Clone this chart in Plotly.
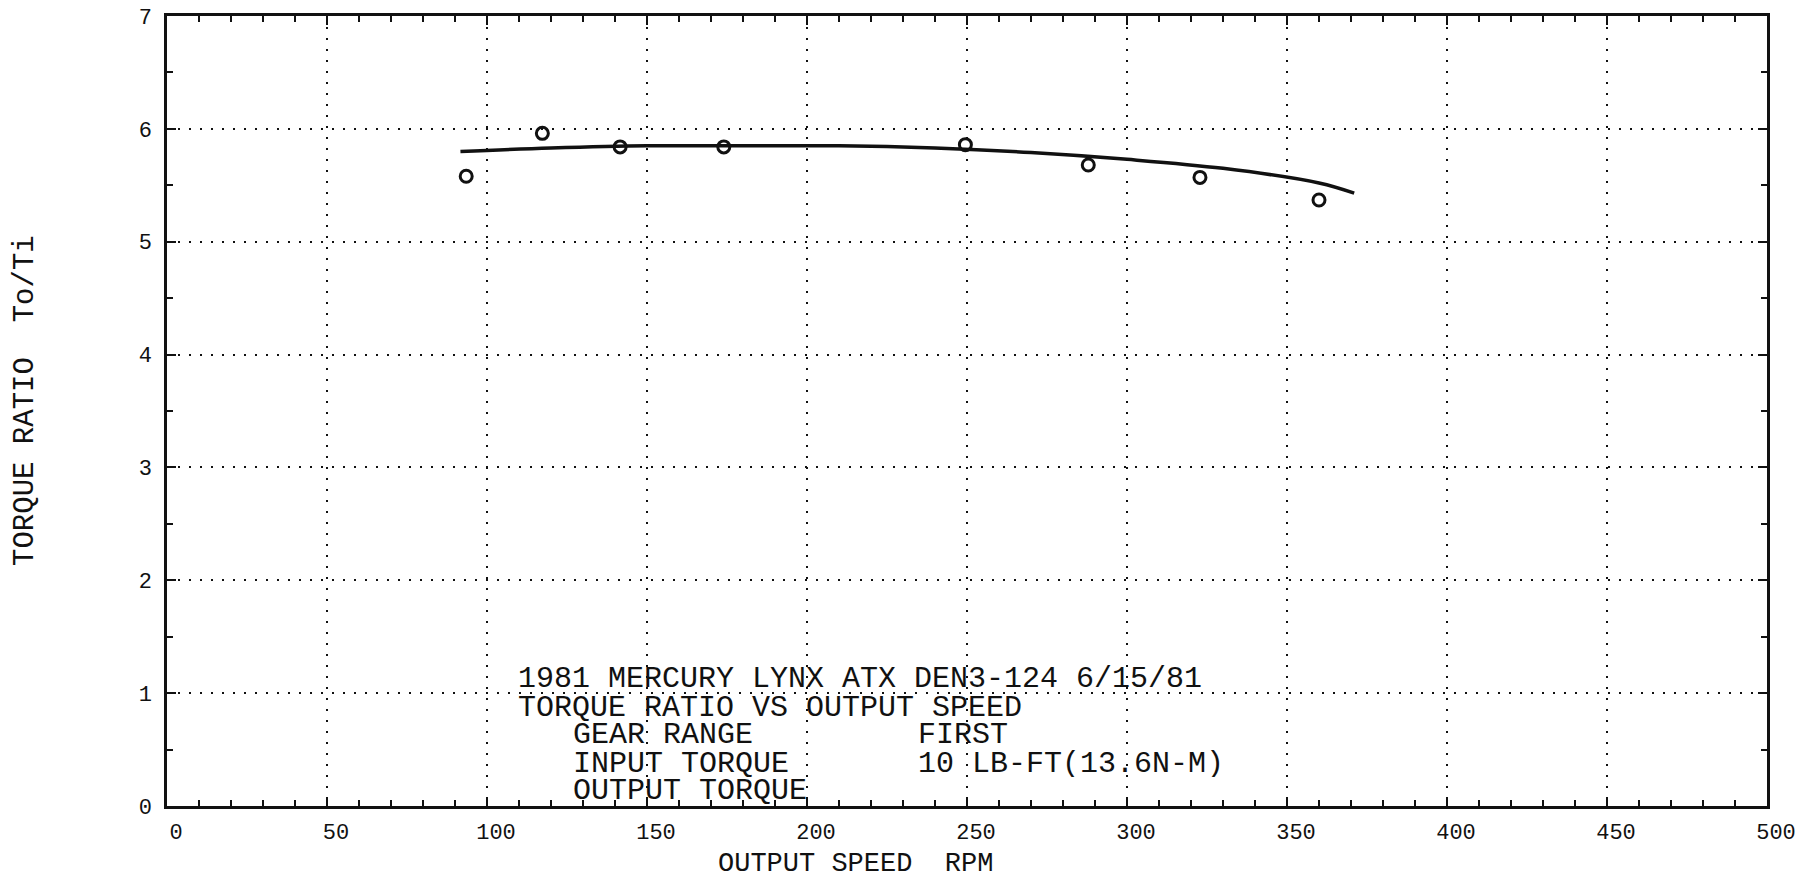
import plotly.graph_objects as go

# Measured points (output speed rpm, torque ratio To/Ti)
speed_pts = [93.5, 117.3, 141.6, 174.0, 249.5, 287.9, 322.8, 360.0]
ratio_pts = [5.58, 5.96, 5.84, 5.84, 5.86, 5.68, 5.57, 5.37]

# Fitted curve
speed_fit = [91.7, 120, 150, 180, 210, 240, 270, 300, 330, 360, 371]
ratio_fit = [5.80, 5.83, 5.85, 5.85, 5.85, 5.83, 5.79, 5.73, 5.65, 5.52, 5.43]

x_ticks = [0, 50, 100, 150, 200, 250, 300, 350, 400, 450, 500]
y_ticks = [0, 1, 2, 3, 4, 5, 6, 7]

info_lines = [
    "1981 MERCURY LYNX ATX DEN3-124 6/15/81",
    "TORQUE RATIO VS OUTPUT SPEED",
    "GEAR RANGE",
    "INPUT TORQUE",
    "OUTPUT TORQUE",
]
info_values = ["FIRST", "10 LB-FT(13.6N-M)"]

FONT = "Liberation Mono"
BLACK = "#111111"

fig = go.Figure()
fig.add_trace(go.Scatter(x=speed_fit, y=ratio_fit, mode="lines",
                         line=dict(color=BLACK, width=3.5, shape="spline"),
                         showlegend=False, hoverinfo="skip"))
fig.add_trace(go.Scatter(x=speed_pts, y=ratio_pts, mode="markers",
                         marker=dict(symbol="circle-open", size=12, color=BLACK,
                                     line=dict(width=3, color=BLACK)),
                         showlegend=False))

axis_common = dict(
    showline=True, linecolor=BLACK, linewidth=2.5, mirror="allticks",
    ticks="inside", ticklen=9, tickwidth=2, tickcolor=BLACK,
    showgrid=True, gridcolor=BLACK, gridwidth=2, griddash="2px,9px",
    zeroline=False, automargin=False, ticklabeloverflow="allow",
    tickfont=dict(family=FONT, size=22, color=BLACK),
)

fig.update_xaxes(range=[0, 500], tickvals=x_ticks, ticktext=[str(v) for v in x_ticks],
                 minor=dict(dtick=10, ticks="inside", ticklen=6, tickwidth=1.5,
                            tickcolor=BLACK, showgrid=False),
                 ticklabelstandoff=4, ticklabelshift=9, **axis_common)
fig.update_yaxes(range=[0, 7], tickvals=y_ticks, ticktext=[str(v) for v in y_ticks],
                 minor=dict(dtick=0.5, ticks="inside", ticklen=6, tickwidth=1.5,
                            tickcolor=BLACK, showgrid=False),
                 ticklabelstandoff=8, **axis_common)

ann = []
ys = [0.1608, 0.1253, 0.0899, 0.0544, 0.019]
xs = [0.219, 0.219, 0.2533, 0.2533, 0.2533]
info_style = dict(xref="paper", yref="paper", xanchor="left", yanchor="middle",
                  showarrow=False, height=27, borderpad=0,
                  font=dict(family=FONT, size=30, color=BLACK))
for t, x, y in zip(info_lines, xs, ys):
    ann.append(dict(text=t, x=x, y=y, **info_style))
for t, y in zip(info_values, ys[2:4]):
    ann.append(dict(text=t, x=0.4685, y=y, **info_style))
ann.append(dict(text="OUTPUT SPEED  RPM", x=0.4304, y=-0.0734, xref="paper", yref="paper",
                xanchor="center", yanchor="middle", showarrow=False,
                font=dict(family=FONT, size=27, color=BLACK)))
ann.append(dict(text="TORQUE RATIO  To/Ti", x=-0.0886, y=0.513, xref="paper", yref="paper",
                xanchor="center", yanchor="middle", showarrow=False, textangle=-90,
                font=dict(family=FONT, size=29, color=BLACK)))

fig.update_layout(
    width=1818, height=878,
    margin=dict(l=167, r=51, t=16, b=72),
    paper_bgcolor="white", plot_bgcolor="white",
    annotations=ann,
    showlegend=False,
)

# Remove the default page margin so the figure fills the window exactly.
fig.write_html("out.html",
               config={"displayModeBar": False},
               post_script="document.body.style.margin='0';document.body.style.overflow='hidden';")
